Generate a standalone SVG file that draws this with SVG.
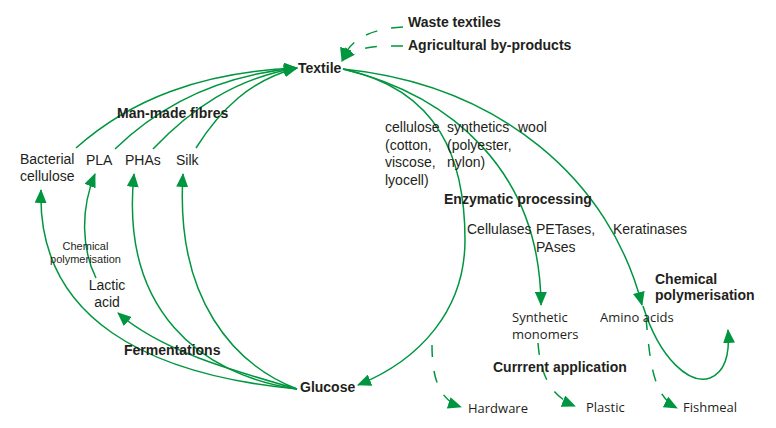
<svg xmlns="http://www.w3.org/2000/svg" width="776" height="428" viewBox="0 0 776 428">
<style>
text{font-family:"Liberation Sans",Arial,sans-serif;fill:#231f20;font-size:14px}
.b{font-weight:bold}
.s{font-size:11px}
.m{font-family:"Open Sans","Noto Sans",sans-serif;font-size:13px}
.c{fill:none;stroke:#00963f;stroke-width:1.5}
.d{stroke-dasharray:12 14}
</style>
<defs>
<marker id="ah" markerUnits="userSpaceOnUse" markerWidth="14" markerHeight="12" viewBox="0 0 14 12" refX="13" refY="6" orient="auto">
<path d="M0,0 L14,6 L0,12 z" fill="#00963f"/>
</marker>
</defs>
<rect width="776" height="428" fill="#ffffff"/>
<g id="connectors">
<path class="c d" d="M403,27 C380,28 350,35 342,61" marker-end="url(#ah)"/>
<path class="c d" d="M403,46 C380,46 355,45 342,61" marker-end="url(#ah)"/>
<path class="c" d="M76,148 C130,100 200,72 297,68" marker-end="url(#ah)"/>
<path class="c" d="M115,149 C160,105 220,75 297,68" marker-end="url(#ah)"/>
<path class="c" d="M153,149 C190,110 235,78 297,68" marker-end="url(#ah)"/>
<path class="c" d="M196,148 C220,110 250,80 297,68" marker-end="url(#ah)"/>
<path class="c" d="M297,389 C150,375 37,320 41,190" marker-end="url(#ah)"/>
<path class="c" d="M297,389 C230,370 160,350 118,313" marker-end="url(#ah)"/>
<path class="c" d="M297,389 C200,375 120,310 134,174" marker-end="url(#ah)"/>
<path class="c" d="M297,389 C235,365 175,300 183,174" marker-end="url(#ah)"/>
<path class="c" d="M96,278 C82,250 80,210 95,174" marker-end="url(#ah)"/>
<path class="c" d="M343,69 C440,90 465,160 465,240 C465,310 420,360 358,385" marker-end="url(#ah)"/>
<path class="c" d="M343,69 C450,95 540,170 541,305" marker-end="url(#ah)"/>
<path class="c" d="M343,69 C500,85 610,180 642,305" marker-end="url(#ah)"/>
<path class="c" d="M643,306 C660,360 690,385 710,378 C725,372 730,355 728,330" marker-end="url(#ah)"/>
<path class="c d" d="M432,345 C432,380 440,400 461,407" marker-end="url(#ah)"/>
<path class="c d" d="M538,343 C540,370 548,395 575,406" marker-end="url(#ah)"/>
<path class="c d" d="M646,318 C650,360 652,395 677,408" marker-end="url(#ah)"/>
</g>
<g id="waste-textiles"><text class="b" x="408" y="27">Waste textiles</text></g>
<g id="agricultural-by-products"><text class="b" x="408" y="50">Agricultural by-products</text></g>
<g id="textile"><text class="b" x="298" y="73">Textile</text></g>
<g id="man-made-fibres"><text class="b" x="117" y="118">Man-made fibres</text></g>
<g id="bacterial-cellulose"><text x="20" y="164">Bacterial</text><text x="20" y="181">cellulose</text></g>
<g id="pla"><text x="86" y="165">PLA</text></g>
<g id="phas"><text x="125" y="165">PHAs</text></g>
<g id="silk"><text x="176" y="165">Silk</text></g>
<g id="chemical-polymerisation-left"><text class="s" x="85.5" y="250" text-anchor="middle">Chemical</text><text class="s" x="85.5" y="263" text-anchor="middle">polymerisation</text></g>
<g id="lactic-acid"><text x="107" y="290" text-anchor="middle">Lactic</text><text x="107" y="307" text-anchor="middle">acid</text></g>
<g id="fermentations"><text class="b" x="124" y="355">Fermentations</text></g>
<g id="glucose"><text class="b" x="300" y="392">Glucose</text></g>
<g id="cellulose"><text x="385" y="132">cellulose</text><text x="385" y="149.5">(cotton,</text><text x="385" y="167">viscose,</text><text x="385" y="184.5">lyocell)</text></g>
<g id="synthetics"><text x="447" y="132">synthetics</text><text x="447" y="149.5">(polyester,</text><text x="447" y="167">nylon)</text></g>
<g id="wool"><text x="518" y="132">wool</text></g>
<g id="enzymatic-processing"><text class="b" x="444" y="204">Enzymatic processing</text></g>
<g id="cellulases"><text x="467" y="234">Cellulases</text></g>
<g id="petases"><text x="536" y="234">PETases,</text><text x="536" y="252">PAses</text></g>
<g id="keratinases"><text x="613" y="234">Keratinases</text></g>
<g id="chemical-polymerisation-right"><text class="b" x="655" y="284">Chemical</text><text class="b" x="655" y="300">polymerisation</text></g>
<g id="synthetic-monomers"><text class="m" x="512" y="322">Synthetic</text><text class="m" x="512" y="339">monomers</text></g>
<g id="amino-acids"><text class="m" x="600" y="322">Amino acids</text></g>
<g id="current-application"><text class="b" x="493" y="372">Currrent application</text></g>
<g id="hardware"><text class="m" x="468" y="413">Hardware</text></g>
<g id="plastic"><text class="m" x="586" y="412">Plastic</text></g>
<g id="fishmeal"><text class="m" x="683" y="412">Fishmeal</text></g>
</svg>
